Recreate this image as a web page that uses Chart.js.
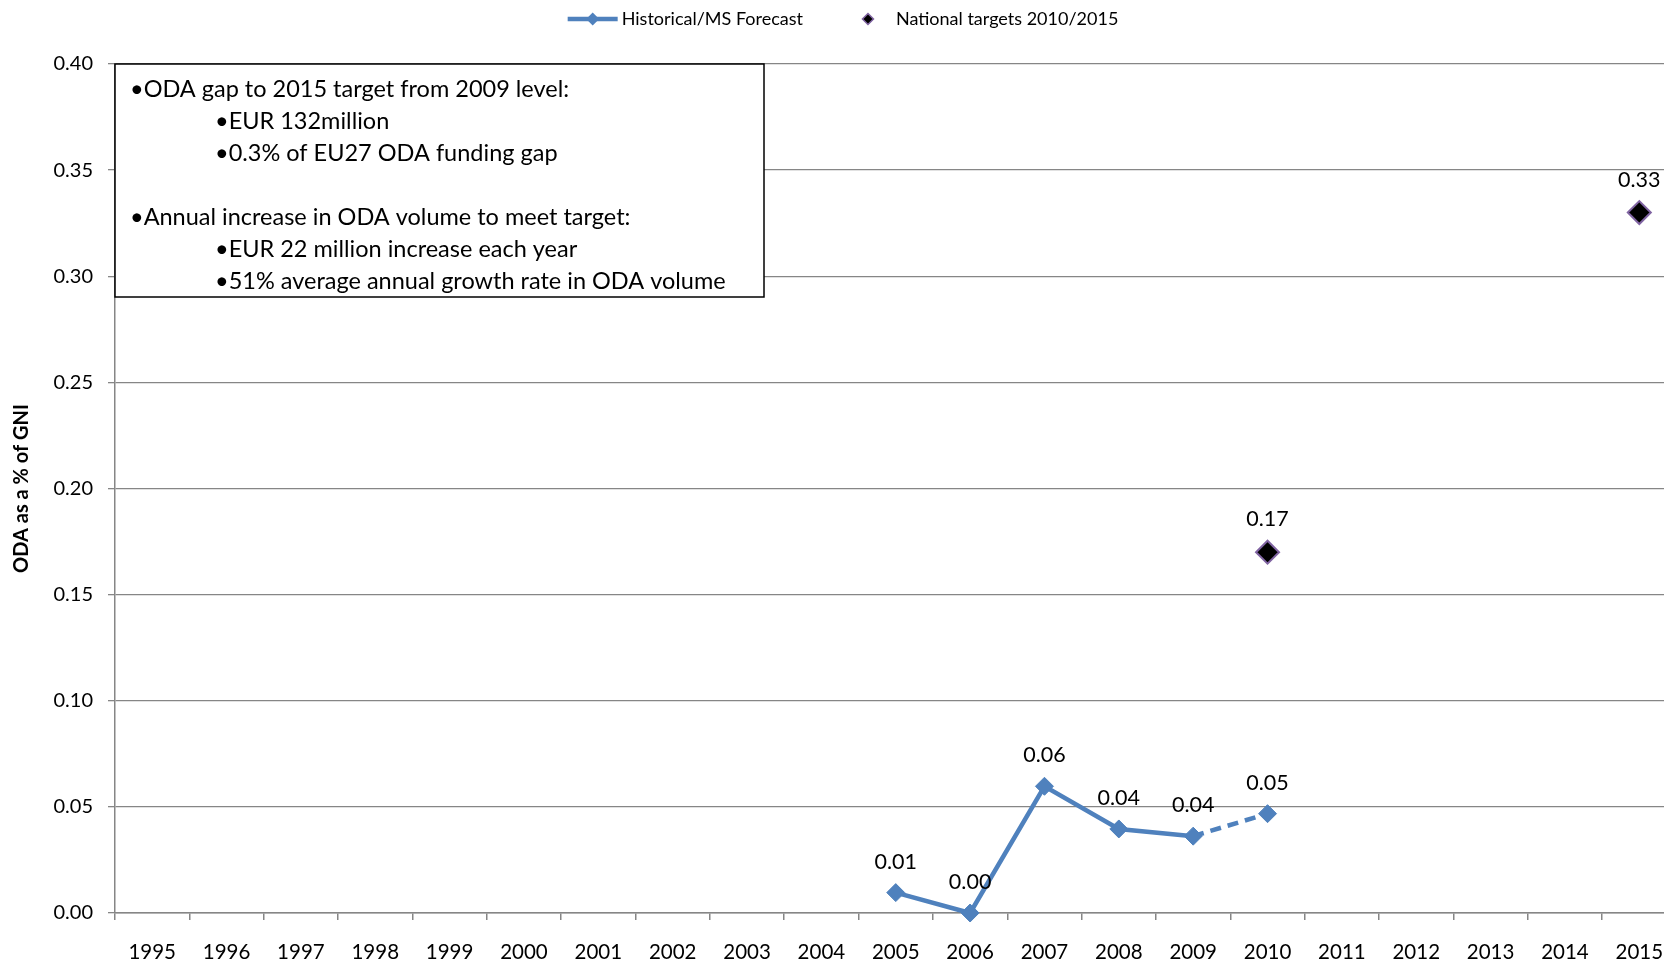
<!DOCTYPE html>
<html>
<head>
<meta charset="utf-8">
<script src="https://cdn.jsdelivr.net/npm/chart.js@4.4.0/dist/chart.umd.min.js"></script>
<style>
    html, body { margin: 0; padding: 0; background: #fff; overflow: hidden; }
    #wrap { width: 1664px; height: 964px; overflow: hidden; }
    canvas { display: block; }
</style>
</head>
<body>
<div id="wrap"><canvas id="odaChart" width="1690" height="964"></canvas></div>
<script>
// Chart data
const years = ['1995', '1996', '1997', '1998', '1999', '2000', '2001', '2002', '2003', '2004',
               '2005', '2006', '2007', '2008', '2009', '2010', '2011', '2012', '2013', '2014', '2015'];
const historical = [null, null, null, null, null, null, null, null, null, null,
                    0.0096, 0.0, 0.0597, 0.0396, 0.0362, 0.0468, null, null, null, null, null];
const targets = [null, null, null, null, null, null, null, null, null, null,
                 null, null, null, null, null, 0.17, null, null, null, null, 0.33];
const yTickValues = [0.00, 0.05, 0.10, 0.15, 0.20, 0.25, 0.30, 0.35, 0.40];
const forecastFrom = '2009';
const seriesNames = ['Historical/MS Forecast', 'National targets 2010/2015'];
const axisTitle = 'ODA as a % of GNI';
const noteLines = [
    { level: 0, text: '\u2022ODA gap to 2015 target from 2009 level:' },
    { level: 1, text: '\u2022EUR 132million' },
    { level: 1, text: '\u20220.3% of EU27 ODA funding gap' },
    null,
    { level: 0, text: '\u2022Annual increase in ODA volume to meet target:' },
    { level: 1, text: '\u2022EUR 22 million increase each year' },
    { level: 1, text: '\u202251% average annual growth rate in ODA volume' }
];

const BLUE = '#4F81BD';
const PURPLE = '#8064A2';
const GRID = '#868686';
const FONT = 'Lato, "Open Sans", sans-serif';

Chart.defaults.font.family = FONT;
Chart.defaults.color = '#000';

// Diamond marker helper
function diamond(ctx, x, y, r, fill, stroke, lw) {
    ctx.beginPath();
    ctx.moveTo(x, y - r);
    ctx.lineTo(x + r, y);
    ctx.lineTo(x, y + r);
    ctx.lineTo(x - r, y);
    ctx.closePath();
    ctx.fillStyle = fill;
    ctx.fill();
    if (stroke) {
        ctx.strokeStyle = stroke;
        ctx.lineWidth = lw;
        ctx.stroke();
    }
}

const overlayPlugin = {
    id: 'overlay',
    beforeDatasetsDraw(chart) {
        // Text box in the upper left corner
        const { ctx, chartArea } = chart;
        const left = chartArea.left;
        const top = chart.scales.y.getPixelForValue(0.40);
        const w = 649, h = 233;
        ctx.save();
        ctx.fillStyle = '#fff';
        ctx.fillRect(left, top, w, h);
        ctx.strokeStyle = '#000';
        ctx.lineWidth = 1.5;
        ctx.strokeRect(left, top, w, h);
        ctx.font = '23.5px ' + FONT;
        ctx.fillStyle = '#000';
        ctx.textBaseline = 'middle';
        ctx.textAlign = 'left';
        noteLines.forEach((line, i) => {
            if (!line) return;
            const x = left + (line.level === 0 ? 15 : 100);
            ctx.fillText(line.text, x, top + 25 + i * 32);
        });
        ctx.restore();
    },
    afterDatasetsDraw(chart) {
        // Value labels above points
        const { ctx } = chart;
        ctx.save();
        ctx.font = '21.5px ' + FONT;
        ctx.fillStyle = '#000';
        ctx.textAlign = 'center';
        ctx.textBaseline = 'middle';
        chart.data.datasets.forEach((ds, i) => {
            const meta = chart.getDatasetMeta(i);
            meta.data.forEach((pt, j) => {
                const v = ds.data[j];
                if (v === null || v === undefined) return;
                ctx.fillText(v.toFixed(2), pt.x, pt.y - (i === 0 ? 31 : 33));
            });
        });
        ctx.restore();
    },
    afterDraw(chart) {
        // Legend on top
        const { ctx } = chart;
        ctx.save();
        ctx.font = '18px ' + FONT;
        const t1 = ctx.measureText(seriesNames[0]).width;
        const t2 = ctx.measureText(seriesNames[1]).width;
        const total = 50 + 4 + t1 + 59 + 12 + 22 + t2;
        let x = 843 - total / 2;
        const y = 19;
        ctx.strokeStyle = BLUE;
        ctx.lineWidth = 4.5;
        ctx.beginPath();
        ctx.moveTo(x, y);
        ctx.lineTo(x + 50, y);
        ctx.stroke();
        diamond(ctx, x + 25, y, 6.5, BLUE);
        x += 54;
        ctx.fillStyle = '#000';
        ctx.textBaseline = 'middle';
        ctx.fillText(seriesNames[0], x, y);
        x += t1 + 59;
        diamond(ctx, x + 6, y, 5.5, '#000', PURPLE, 1.5);
        x += 12 + 22;
        ctx.fillStyle = '#000';
        ctx.fillText(seriesNames[1], x, y);
        ctx.restore();
    }
};

const ctx = document.getElementById('odaChart');
new Chart(ctx, {
    type: 'line',
    data: {
        labels: years,
        datasets: [{
            label: seriesNames[0],
            data: historical,
            borderColor: BLUE,
            backgroundColor: BLUE,
            borderWidth: 4.5,
            pointStyle: 'rectRot',
            pointRadius: 9,
            pointBackgroundColor: BLUE,
            pointBorderColor: BLUE,
            pointBorderWidth: 1,
            clip: false,
            segment: {
                borderDash: c => (c.p0DataIndex >= years.indexOf(forecastFrom) ? [11, 7] : undefined)
            }
        }, {
            label: seriesNames[1],
            data: targets,
            showLine: false,
            pointStyle: 'rectRot',
            pointRadius: 11.5,
            pointBackgroundColor: '#000',
            pointBorderColor: PURPLE,
            pointBorderWidth: 2,
            clip: false
        }]
    },
    options: {
        responsive: false,
        animation: false,
        devicePixelRatio: 1,
        // canvas is wider than the page so the plot runs past the right edge, as in the source image
        layout: { padding: { top: 64, right: 3, left: 0, bottom: 0 } },
        plugins: {
            legend: { display: false },
            tooltip: { enabled: false }
        },
        scales: {
            x: {
                offset: true,
                afterFit: scale => { scale.height = 51; },
                grid: {
                    offset: true,
                    drawOnChartArea: false,
                    drawTicks: true,
                    tickLength: 7,
                    color: GRID,
                    lineWidth: 1.5
                },
                border: { display: true, color: GRID, width: 1.5 },
                ticks: {
                    font: { size: 20.5 },
                    color: '#000',
                    padding: 20,
                    maxRotation: 0,
                    autoSkip: false
                }
            },
            y: {
                min: 0,
                max: 0.40,
                afterBuildTicks: scale => {
                    scale.ticks = yTickValues.map(v => ({ value: v }));
                },
                afterFit: scale => { scale.width = 115; },
                grid: {
                    color: GRID,
                    lineWidth: 1.3,
                    drawTicks: true,
                    tickLength: 7
                },
                border: { display: true, color: GRID, width: 1.5 },
                ticks: {
                    font: { size: 20 },
                    color: '#000',
                    padding: 15,
                    callback: v => v.toFixed(2)
                },
                title: {
                    display: true,
                    text: axisTitle,
                    font: { size: 20, weight: 'bold' },
                    color: '#000',
                    padding: { top: 10, bottom: 0 }
                }
            }
        }
    },
    plugins: [overlayPlugin]
});
</script>
</body>
</html>
